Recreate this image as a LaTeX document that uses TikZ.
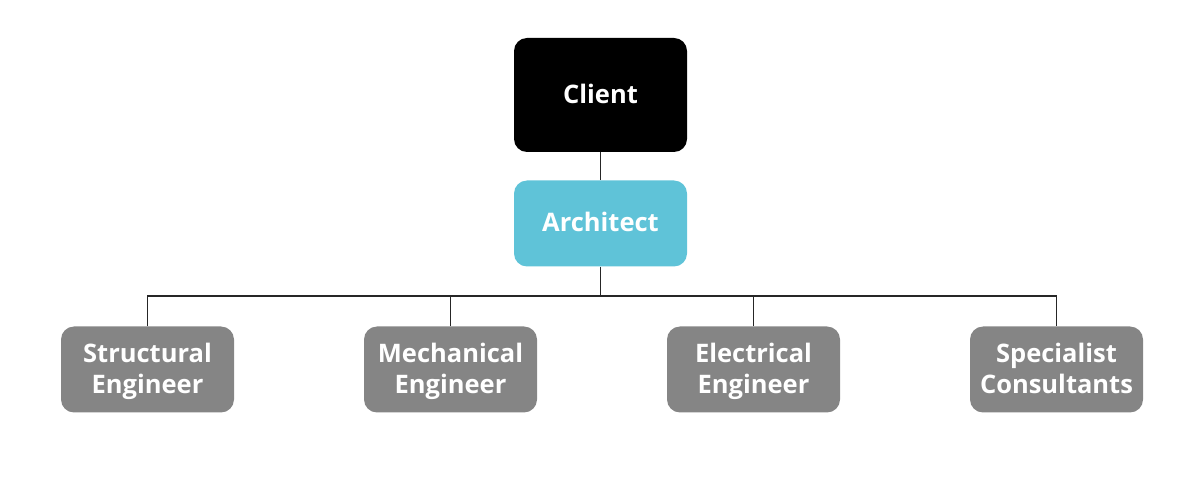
\documentclass[tikz,border=0pt]{standalone}
\usepackage{fontspec}
\setmainfont{Open Sans}
\usetikzlibrary{positioning}
\definecolor{archblue}{HTML}{5FC3D8}
\definecolor{engrey}{HTML}{858585}
\newcommand{\rolestrut}{\rule[-7.3pt]{0pt}{31pt}}
\newcommand{\role}[2]{\rolestrut#1\\\rolestrut#2}
\tikzstyle{rolebox} = [rounded corners=13pt, minimum width=173pt, minimum height=86pt, inner sep=0pt, align=center, text=white, font=\fontsize{25.5}{31}\selectfont\bfseries]
\tikzstyle{clientbox} = [rolebox, fill=black, minimum height=114pt]
\tikzstyle{archbox} = [rolebox, fill=archblue]
\tikzstyle{engbox} = [rolebox, fill=engrey]
\tikzstyle{link} = [draw=black!85, line width=1.2pt]

\begin{document}
\begin{tikzpicture}[x=1pt, y=-1pt]
	\useasboundingbox (0,0) rectangle (1200,502);
	\node [clientbox] (client) at (600.5,95) {\rolestrut Client};
	\node [archbox] (arch) at (600.5,223.5) {\rolestrut Architect};
	\node [engbox] (struct) at (147.5,369.5) {\role{Structural}{Engineer}};
	\node [engbox] (mech) at (450.5,369.5) {\role{Mechanical}{Engineer}};
	\node [engbox] (elec) at (753.5,369.5) {\role{Electrical}{Engineer}};
	\node [engbox] (spec) at (1056.5,369.5) {\role{Specialist}{Consultants}};
	\coordinate (bus) at (600.5,296);
	\draw [link] (client) -- (arch);
	\draw [link] (arch) -- (bus);
	\draw [link] (struct.north) |- (bus) -| (spec.north);
	\draw [link] (mech.north) -- (mech.north |- bus);
	\draw [link] (elec.north) -- (elec.north |- bus);
\end{tikzpicture}
\end{document}
